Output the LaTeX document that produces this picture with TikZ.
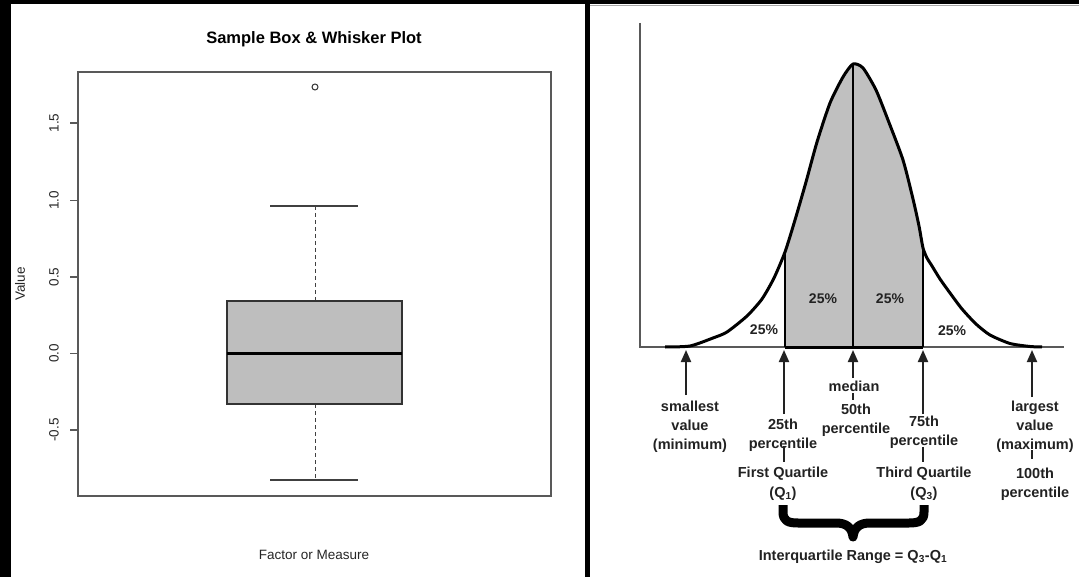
\documentclass[tikz,border=0pt]{standalone}
\usepackage{fontspec}
\setmainfont{Liberation Sans}
\usetikzlibrary{arrows.meta}
\definecolor{boxgray}{HTML}{BEBEBE}
\definecolor{shadegray}{HTML}{C0C0C0}
\definecolor{ink}{HTML}{222222}
\begin{document}
\begin{tikzpicture}[x=1pt,y=-1pt,
  rlab/.style={font=\fontsize{14.5}{19}\selectfont\bfseries, text=ink, align=center, inner sep=1pt},
  pct/.style={font=\fontsize{14}{16}\selectfont\bfseries, text=ink, inner sep=0pt},
  arr/.style={line width=2pt, -{Triangle[width=10pt,length=12pt]}, draw=ink},
  tickln/.style={line width=1.5pt, draw=ink},
  llab/.style={font=\fontsize{13.5}{16}\selectfont, inner sep=0pt, text=black!85},
  frame/.style={draw=black!65, line width=1.4pt},
  whisk/.style={draw=black!75, line width=1.4pt},
  dashln/.style={draw=black!75, line width=1pt, dash pattern=on 4pt off 3pt},
  curveln/.style={draw=black, line width=3pt, line join=round},
]
\useasboundingbox (0,0) rectangle (1079,577);
\fill[white] (0,0) rectangle (1079,577);
% dark frame strips
\fill[black] (0,0) rectangle (1079,4);
\fill[black] (0,0) rectangle (10.5,577);
\fill[black] (585,0) rectangle (589.5,577);
\draw[black!35, line width=1pt] (590,6) -- (1079,6);

% ---------- left panel: box plot ----------
\node[font=\fontsize{16.5}{18}\selectfont\bfseries] (title) at (314,39) {Sample Box \& Whisker Plot};
\draw[frame] (78,72) rectangle (551,496);
\foreach \v/\yy [count=\i] in {1.5/123, 1.0/200.5, 0.5/277, 0.0/353.5, -0.5/430}{
  \draw[frame, line width=1.2pt] (70,\yy) -- (78,\yy);
  \node[llab, rotate=90] (tk\i) at (54,\yy) {\v};
}
\node[llab, rotate=90] (ylab) at (20,284) {Value};
\node[llab] (xlab) at (314,555) {Factor or Measure};
% box
\draw[dashln] (315,206) -- (315,301);
\draw[dashln] (315,404) -- (315,480);
\draw[whisk] (270,206) -- (358,206);
\draw[whisk] (270,480) -- (358,480);
\filldraw[fill=boxgray, draw=black!80, line width=1.4pt] (227,301) rectangle (402,404);
\draw[black, line width=3pt] (227,353) -- (402,353);
\draw[black!80, line width=1pt] (315,87) circle (3);

% ---------- right panel: bell curve ----------
\def\bell{(665,347) (690,346) (713,338) (727,332) (747,316) (762,299) (774,278) (785,252) (795,220) (806,182) (817,142) (830,103) (843,77) (853,64) (863,68) (876,90) (888,120) (903,160) (913,199) (919,226) (923,248) (927,258) (932,266) (940,279) (950,293) (962,309) (976,324) (990,335) (1010,343.5) (1030,346.5) (1042,347)}
\draw[black!65, line width=1.6pt] (640,23) -- (640,347) -- (1064,347);
\begin{scope}
  \clip (785,0) rectangle (923,347);
  \fill[shadegray] plot[smooth, tension=0.4] coordinates {\bell} -- cycle;
\end{scope}
\begin{scope}
  \clip plot[smooth, tension=0.4] coordinates {\bell} -- cycle;
  \draw[black, line width=2.6pt] (785,347) -- (785,0);
  \draw[black, line width=2.6pt] (853,347) -- (853,0);
  \draw[black, line width=2.6pt] (923,347) -- (923,0);
\end{scope}
\draw[black, line width=3pt] (785,347) -- (923,347);
\draw[curveln] plot[smooth, tension=0.4] coordinates {\bell};

% percentages
\node[pct] (p1) at (764,330) {25\%};
\node[pct] (p2) at (823,299) {25\%};
\node[pct] (p3) at (890,299) {25\%};
\node[pct] (p4) at (952,331) {25\%};

% labels
\node[rlab] (minlbl) at (690,427) {smallest\\value\\(minimum)};
\node[rlab] (maxlbl) at (1035,427) {largest\\value\\(maximum)};
\node[rlab] (q1lbl) at (783,435) {25th\\percentile};
\node[rlab] (q3lbl) at (924,432) {75th\\percentile};
\node[rlab] (medlbl) at (854,386) {median};
\node[rlab] (p50lbl) at (856,420) {50th\\percentile};
\node[rlab] (fq) at (783,474) {First Quartile};
\node[rlab] (fqq) at (783,494) {(Q\textsubscript{1})};
\node[rlab] (tq) at (924,474) {Third Quartile};
\node[rlab] (tqq) at (924,494) {(Q\textsubscript{3})};
\node[rlab] (hund) at (1035,484) {100th\\percentile};
\node[rlab] (iqr) at (853,557) {Interquartile Range = Q\textsubscript{3}-Q\textsubscript{1}};

% arrows
\coordinate (minTail) at (686,395); \coordinate (minTip) at (686,350);
\coordinate (q1Tail) at (784,414);  \coordinate (q1Tip) at (784,350);
\coordinate (medTail) at (853,378); \coordinate (medTip) at (853,350);
\coordinate (q3Tail) at (923,414);  \coordinate (q3Tip) at (923,350);
\coordinate (maxTail) at (1032,397); \coordinate (maxTip) at (1032,350);
\draw[arr] (minTail) -- (minTip);
\draw[arr] (q1Tail) -- (q1Tip);
\draw[arr] (medTail) -- (medTip);
\draw[arr] (q3Tail) -- (q3Tip);
\draw[arr] (maxTail) -- (maxTip);

% small connecting ticks
\coordinate (t1a) at (853,393); \coordinate (t1b) at (853,400);
\coordinate (t2a) at (784,446); \coordinate (t2b) at (784,462);
\coordinate (t3a) at (923,447); \coordinate (t3b) at (923,462);
\coordinate (t4a) at (1032,450); \coordinate (t4b) at (1032,459);
\draw[tickln] (t1a) -- (t1b);
\draw[tickln] (t2a) -- (t2b);
\draw[tickln] (t3a) -- (t3b);
\draw[tickln] (t4a) -- (t4b);

% brace
\draw[black, line width=9pt, line join=round]
  (783,505) -- (783,512) .. controls (783,521) and (788,523) .. (798,523)
  -- (836,523) .. controls (847,523) and (852,528) .. (853,537)
  .. controls (854,528) and (859,523) .. (870,523)
  -- (909,523) .. controls (919,523) and (924,521) .. (924,512) -- (924,505);
\end{tikzpicture}
\end{document}
